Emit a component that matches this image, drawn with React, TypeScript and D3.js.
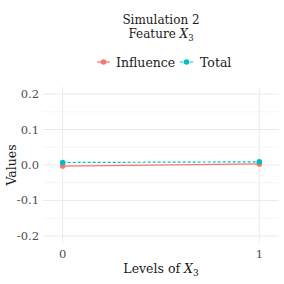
import React from 'react';
import * as d3 from 'd3';

const levels = [0, 1];
const influence = [-0.003, 0.003];
const total = [0.007, 0.009];
const yTicks = [-0.2, -0.1, 0.0, 0.1, 0.2];
const yMinor = [-0.15, -0.05, 0.05, 0.15];

const W = 284;
const H = 284;
const panel = { left: 43, right: 279, top: 87, bottom: 243 };
const font = "'DejaVu Serif', serif";

const App = () => {
  const x = d3.scaleLinear().domain([-0.1, 1.1]).range([panel.left, panel.right]);
  const y = d3.scaleLinear().domain([-0.22, 0.22]).range([panel.bottom, panel.top]);

  const line = d3.line<number>()
    .x((_, i) => x(levels[i]))
    .y(d => y(d));

  const series = [
    { name: 'Influence', values: influence, color: '#F8766D', dash: null },
    { name: 'Total', values: total, color: '#00BFC4', dash: '3,2' },
  ];

  return (
    <svg width={W} height={H} style={{ position: 'absolute', left: 0, top: 0 }}>
      <rect width={W} height={H} fill="white" />
      {/* title */}
      <text x={161} y={24} textAnchor="middle" fontFamily={font} fontSize={12} fill="#1a1a1a">Simulation 2</text>
      <text x={161} y={38} textAnchor="middle" fontFamily={font} fontSize={12} fill="#1a1a1a">
        Feature <tspan fontStyle="italic">X</tspan><tspan fontSize={8.5} dy={2.5}>3</tspan>
      </text>

      {/* legend */}
      <g fontFamily={font} fontSize={12.5} fill="#1a1a1a">
        <line x1={97} x2={110} y1={62} y2={62} stroke="#F8766D" strokeWidth={1.2} />
        <circle cx={103.5} cy={62} r={2.8} fill="#F8766D" />
        <text x={116} y={66.5}>Influence</text>
        <line x1={180} x2={193} y1={62} y2={62} stroke="#00BFC4" strokeWidth={1.2} strokeDasharray="3,2" />
        <circle cx={186.5} cy={62} r={2.8} fill="#00BFC4" />
        <text x={200} y={66.5}>Total</text>
      </g>

      {/* grid */}
      {yMinor.map(v => (
        <line key={'m' + v} x1={panel.left} x2={panel.right} y1={y(v)} y2={y(v)} stroke="#ebebeb" strokeWidth={0.5} />
      ))}
      {yTicks.map(v => (
        <line key={'g' + v} x1={panel.left} x2={panel.right} y1={y(v)} y2={y(v)} stroke="#ebebeb" strokeWidth={1} />
      ))}
      {levels.map(v => (
        <line key={'v' + v} x1={x(v)} x2={x(v)} y1={panel.top} y2={panel.bottom} stroke="#ebebeb" strokeWidth={1} />
      ))}

      {/* y tick labels */}
      {yTicks.map(v => (
        <text key={'t' + v} x={39} y={y(v) + 4} textAnchor="end" fontFamily={font} fontSize={11.5} fill="#4d4d4d">
          {d3.format('.1f')(v).replace('−', '-')}
        </text>
      ))}
      {/* x tick labels */}
      {levels.map(v => (
        <text key={'x' + v} x={x(v)} y={258} textAnchor="middle" fontFamily={font} fontSize={11.5} fill="#4d4d4d">{v}</text>
      ))}

      {/* axis titles */}
      <text transform={`translate(16,${y(0)}) rotate(-90)`} textAnchor="middle" fontFamily={font} fontSize={12.5} fill="#1a1a1a">Values</text>
      <text x={161} y={273} textAnchor="middle" fontFamily={font} fontSize={12.5} fill="#1a1a1a">
        Levels of <tspan fontStyle="italic">X</tspan><tspan fontSize={9} dy={3}>3</tspan>
      </text>

      {/* series */}
      {series.map(s => (
        <g key={s.name}>
          <path d={line(s.values) || ''} fill="none" stroke={s.color} strokeWidth={1.2} strokeDasharray={s.dash || undefined} />
          {s.values.map((v, i) => (
            <circle key={i} cx={x(levels[i])} cy={y(v)} r={2.8} fill={s.color} />
          ))}
        </g>
      ))}
    </svg>
  );
};

export default App;
